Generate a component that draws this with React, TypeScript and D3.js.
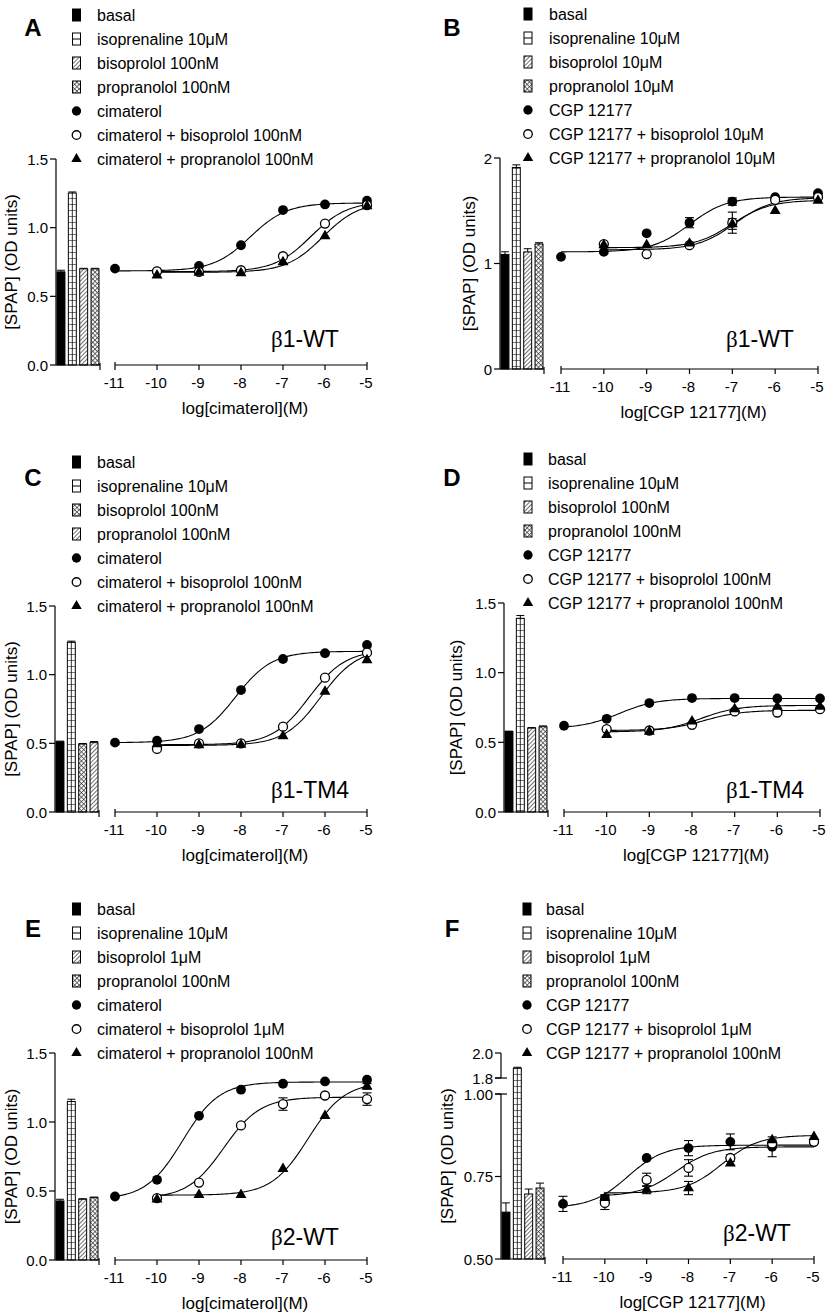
import React from 'react';
import * as d3 from 'd3';

// ---------- shared ----------
const logConc = [-11, -10, -9, -8, -7, -6, -5];
const xTickValues = [-11, -10, -9, -8, -7, -6, -5];
const barKeys = ['basal', 'isoprenaline', 'bisoprolol', 'propranolol'];
const markerKinds = ['filled', 'open', 'triangle'];

// ---------- Panel A ----------
const aLegend = ['basal', 'isoprenaline 10μM', 'bisoprolol 100nM', 'propranolol 100nM', 'cimaterol', 'cimaterol + bisoprolol 100nM', 'cimaterol + propranolol 100nM'];
const aBarPatterns = ['solid', 'grid', 'hatch', 'cross'];
const aBars = [0.678, 1.252, 0.70, 0.70];
const aBarErr = [0.012, 0.008, 0.004, 0.004];
const aAgonist = [0.702, 0.682, 0.721, 0.872, 1.128, 1.169, 1.196];
const aBiso = [null, 0.682, 0.678, 0.69, 0.792, 1.03, 1.164];
const aProp = [null, 0.653, 0.673, 0.67, 0.75, 0.938, 1.157];
const aErr = [[0, 0, 0, 0, 0, 0, 0], [0, 0, 0, 0, 0, 0, 0], [0, 0, 0, 0, 0, 0, 0]];
const aFits = [[0.685, 1.18, -7.78, 1], [0.68, 1.19, -6.34, 1], [0.675, 1.19, -6.05, 1]];

// ---------- Panel B ----------
const bLegend = ['basal', 'isoprenaline 10μM', 'bisoprolol 10μM', 'propranolol 10μM', 'CGP 12177', 'CGP 12177 + bisoprolol 10μM', 'CGP 12177 + propranolol 10μM'];
const bBarPatterns = ['solid', 'grid', 'hatch', 'cross'];
const bBars = [1.086, 1.91, 1.11, 1.185];
const bBarErr = [0.025, 0.025, 0.03, 0.012];
const bAgonist = [1.063, 1.11, 1.286, 1.387, 1.587, 1.629, 1.667];
const bBiso = [null, 1.184, 1.089, 1.174, 1.387, 1.603, 1.629];
const bProp = [null, 1.174, 1.174, 1.19, 1.374, 1.50, 1.596];
const bErr = [[0, 0, 0, 0.048, 0.035, 0, 0], [0, 0, 0, 0, 0.10, 0, 0], [0, 0, 0, 0, 0.05, 0, 0]];
const bFits = [[1.11, 1.63, -8.0, 1], [1.13, 1.625, -6.95, 1], [1.15, 1.60, -7.0, 1]];

// ---------- Panel C ----------
const cLegend = ['basal', 'isoprenaline 10μM', 'bisoprolol 100nM', 'propranolol 100nM', 'cimaterol', 'cimaterol + bisoprolol 100nM', 'cimaterol + propranolol 100nM'];
const cBarPatterns = ['solid', 'grid', 'cross', 'hatch'];
const cBars = [0.512, 1.236, 0.495, 0.505];
const cBarErr = [0.004, 0.008, 0.004, 0.008];
const cAgonist = [0.505, 0.519, 0.604, 0.888, 1.114, 1.156, 1.216];
const cBiso = [null, 0.459, 0.50, 0.50, 0.621, 0.978, 1.16];
const cProp = [null, 0.495, 0.488, 0.49, 0.553, 0.876, 1.107];
const cErr = [[0, 0, 0, 0, 0, 0, 0], [0, 0, 0, 0, 0, 0, 0], [0, 0, 0, 0, 0, 0, 0]];
const cFits = [[0.505, 1.17, -8.13, 1], [0.49, 1.18, -6.38, 1], [0.485, 1.19, -6.1, 1]];

// ---------- Panel D ----------
const dLegend = ['basal', 'isoprenaline 10μM', 'bisoprolol 100nM', 'propranolol 100nM', 'CGP 12177', 'CGP 12177 + bisoprolol 100nM', 'CGP 12177 + propranolol 100nM'];
const dBarPatterns = ['solid', 'grid', 'hatch', 'cross'];
const dBars = [0.578, 1.39, 0.602, 0.612];
const dBarErr = [0.002, 0.02, 0.004, 0.006];
const dAgonist = [0.619, 0.669, 0.782, 0.818, 0.818, 0.815, 0.815];
const dBiso = [null, 0.595, 0.585, 0.626, 0.722, 0.714, 0.738];
const dProp = [null, 0.554, 0.578, 0.65, 0.738, 0.757, 0.757];
const dErr = [[0, 0, 0, 0, 0, 0, 0], [0, 0, 0, 0, 0, 0, 0], [0, 0, 0, 0, 0, 0, 0]];
const dFits = [[0.60, 0.815, -9.7, 1], [0.585, 0.73, -7.7, 1], [0.575, 0.765, -7.8, 1]];

// ---------- Panel E ----------
const eLegend = ['basal', 'isoprenaline 10μM', 'bisoprolol 1μM', 'propranolol 100nM', 'cimaterol', 'cimaterol + bisoprolol 1μM', 'cimaterol + propranolol 100nM'];
const eBarPatterns = ['solid', 'grid', 'hatch', 'cross'];
const eBars = [0.428, 1.149, 0.44, 0.452];
const eBarErr = [0.012, 0.016, 0.004, 0.004];
const eAgonist = [0.46, 0.581, 1.045, 1.234, 1.277, 1.294, 1.306];
const eBiso = [null, 0.448, 0.561, 0.975, 1.13, 1.192, 1.166];
const eProp = [null, 0.44, 0.472, 0.472, 0.66, 1.045, 1.258];
const eErr = [[0, 0, 0, 0, 0, 0, 0], [0, 0, 0, 0, 0.045, 0, 0.045], [0, 0, 0, 0, 0, 0, 0.02]];
const eFits = [[0.44, 1.29, -9.39, 1], [0.445, 1.18, -8.41, 1], [0.47, 1.29, -6.4, 1]];

// ---------- Panel F ----------
const fLegend = ['basal', 'isoprenaline 10μM', 'bisoprolol 1μM', 'propranolol 100nM', 'CGP 12177', 'CGP 12177 + bisoprolol 1μM', 'CGP 12177 + propranolol 100nM'];
const fBarPatterns = ['solid', 'grid', 'hatch', 'cross'];
const fBars = [0.642, 1.878, 0.697, 0.715];
const fBarErr = [0.028, 0.008, 0.015, 0.015];
const fAgonist = [0.667, 0.682, 0.806, 0.836, 0.855, 0.84, 0.855];
const fBiso = [null, 0.67, 0.74, 0.776, 0.806, 0.85, 0.855];
const fProp = [null, 0.685, 0.71, 0.715, 0.79, 0.86, 0.87];
const fErr = [[0.023, 0.01, 0, 0.023, 0.024, 0.03, 0.005], [0, 0.02, 0.02, 0.025, 0.01, 0.01, 0], [0, 0.01, 0.012, 0.02, 0, 0, 0]];
const fFits = [[0.655, 0.845, -9.45, 1], [0.69, 0.84, -8.3, 1], [0.70, 0.875, -7.2, 1]];

// ---------- axes ----------
const yTicks01 = [0, 0.5, 1.0, 1.5];
const yTickLabels01 = ['0.0', '0.5', '1.0', '1.5'];
const yTicksB = [0, 1, 2];
const yTickLabelsB = ['0', '1', '2'];
const yTicksF = [0.5, 0.75, 1.0, 1.8, 2.0];
const yTickLabelsF = ['0.50', '0.75', '1.00', '1.8', '2.0'];
const cimTitle = 'log[cimaterol](M)';
const cgpTitle = 'log[CGP 12177](M)';

const panels = [
  { letter: 'A', sub: ['β', '1-WT'], legend: aLegend, patterns: aBarPatterns, bars: aBars, barErr: aBarErr, series: [aAgonist, aBiso, aProp], errs: aErr, fits: aFits, yDomain: [0, 1.5], yTicks: yTicks01, yTickLabels: yTickLabels01, xTitle: cimTitle },
  { letter: 'B', sub: ['β', '1-WT'], legend: bLegend, patterns: bBarPatterns, bars: bBars, barErr: bBarErr, series: [bAgonist, bBiso, bProp], errs: bErr, fits: bFits, yDomain: [0, 2], yTicks: yTicksB, yTickLabels: yTickLabelsB, xTitle: cgpTitle },
  { letter: 'C', sub: ['β', '1-TM4'], legend: cLegend, patterns: cBarPatterns, bars: cBars, barErr: cBarErr, series: [cAgonist, cBiso, cProp], errs: cErr, fits: cFits, yDomain: [0, 1.5], yTicks: yTicks01, yTickLabels: yTickLabels01, xTitle: cimTitle },
  { letter: 'D', sub: ['β', '1-TM4'], legend: dLegend, patterns: dBarPatterns, bars: dBars, barErr: dBarErr, series: [dAgonist, dBiso, dProp], errs: dErr, fits: dFits, yDomain: [0, 1.5], yTicks: yTicks01, yTickLabels: yTickLabels01, xTitle: cgpTitle },
  { letter: 'E', sub: ['β', '2-WT'], legend: eLegend, patterns: eBarPatterns, bars: eBars, barErr: eBarErr, series: [eAgonist, eBiso, eProp], errs: eErr, fits: eFits, yDomain: [0, 1.5], yTicks: yTicks01, yTickLabels: yTickLabels01, xTitle: cimTitle },
  { letter: 'F', sub: ['β', '2-WT'], legend: fLegend, patterns: fBarPatterns, bars: fBars, barErr: fBarErr, series: [fAgonist, fBiso, fProp], errs: fErr, fits: fFits, yDomain: [0.5, 1.0, 1.8, 2.0], yTicks: yTicksF, yTickLabels: yTickLabelsF, xTitle: cgpTitle, segments: [[0.5, 1.0], [1.8, 2.0]] },
];

const layouts = [
  { axisX: 56, x0: 115, x1: 367, yRange: [365, 159], legendTop: 15, iconX: 76.5, textX: 97, letterX: 33, letterY: 27, subX: 271, subY: 339, yTitleX: 11 },
  { axisX: 500, x0: 561, x1: 818, yRange: [369, 158], legendTop: 14, iconX: 528, textX: 549, letterX: 452, letterY: 27, subX: 726, subY: 339, yTitleX: 469 },
  { axisX: 55, x0: 115, x1: 367, yRange: [812, 606], legendTop: 462, iconX: 76.5, textX: 97, letterX: 33, letterY: 477, subX: 271, subY: 790, yTitleX: 11 },
  { axisX: 504, x0: 564, x1: 820, yRange: [812, 603], legendTop: 459, iconX: 528, textX: 548, letterX: 452, letterY: 477, subX: 726, subY: 790, yTitleX: 456 },
  { axisX: 55, x0: 115, x1: 367, yRange: [1260, 1053], legendTop: 909, iconX: 76.5, textX: 97, letterX: 33, letterY: 928, subX: 271, subY: 1237, yTitleX: 11 },
  { axisX: 501, x0: 563, x1: 814, yRange: [1259, 1094, 1078, 1053], legendTop: 909, iconX: 527, textX: 546, letterX: 452, letterY: 928, subX: 723, subY: 1233, yTitleX: 447 },
];

const FONT = '"Liberation Sans", Arial, Helvetica, sans-serif';

function patternFill(p) {
  if (p === 'solid') return '#000';
  if (p === 'grid') return 'url(#pGrid)';
  if (p === 'hatch') return 'url(#pHatch)';
  return 'url(#pCross)';
}

function Marker({ kind, cx, cy, scale = 1 }) {
  if (kind === 'filled') return <circle cx={cx} cy={cy} r={4.9 * scale} fill="#000" />;
  if (kind === 'open') return <circle cx={cx} cy={cy} r={4.5 * scale} fill="#fff" stroke="#000" strokeWidth={1.3} />;
  const path = d3.symbol().type(d3.symbolTriangle).size(52 * scale * scale)();
  return <path d={path || ''} transform={`translate(${cx},${cy})`} fill="#000" />;
}

function hill(p, v) {
  return p[0] + (p[1] - p[0]) / (1 + Math.pow(10, (p[2] - v) * p[3]));
}

function Panel({ cfg, lay }) {
  const x = d3.scaleLinear().domain([-11, -5]).range([lay.x0, lay.x1]);
  const y = d3.scaleLinear().domain(cfg.yDomain).range(lay.yRange);
  const base = cfg.yDomain[0];
  const yBase = y(base);
  const band = d3.scaleBand().domain(barKeys).range([lay.axisX + 1, lay.axisX + 43]).paddingInner(0.3).paddingOuter(0);
  const bw = band.bandwidth();
  const line = d3.line().x((d) => x(d[0])).y((d) => y(d[1]));
  const segments = cfg.segments || [[cfg.yDomain[0], cfg.yDomain[cfg.yDomain.length - 1]]];
  const yMid = (lay.yRange[0] + lay.yRange[lay.yRange.length - 1]) / 2;

  return (
    <g fontFamily={FONT}>
      {/* panel letter */}
      <text x={lay.letterX} y={lay.letterY} fontSize={24} fontWeight="bold" textAnchor="middle" dominantBaseline="central">{cfg.letter}</text>

      {/* legend */}
      {cfg.legend.map((label, i) => {
        const ry = lay.legendTop + i * 24;
        let icon;
        if (i < 4) {
          const p = cfg.patterns[i];
          icon = (
            <g>
              <rect x={lay.iconX - 4} y={ry - 6} width={8} height={12} fill="#fff" />
              <rect x={lay.iconX - 4} y={ry - 6} width={8} height={12} fill={p === 'grid' ? 'none' : patternFill(p)} stroke="#000" strokeWidth={1} />
              {p === 'grid' && <line x1={lay.iconX - 4} x2={lay.iconX + 4} y1={ry} y2={ry} stroke="#000" strokeWidth={1} />}
            </g>
          );
        } else {
          icon = <Marker kind={markerKinds[i - 4]} cx={lay.iconX} cy={ry} scale={0.95} />;
        }
        return (
          <g key={i}>
            {icon}
            <text x={lay.textX} y={ry} fontSize={16} dominantBaseline="central">{label}</text>
          </g>
        );
      })}

      {/* y axis */}
      {segments.map((s, i) => (
        <line key={'seg' + i} x1={lay.axisX} x2={lay.axisX} y1={y(s[0])} y2={y(s[1])} stroke="#000" strokeWidth={1.2} />
      ))}
      {cfg.segments && [cfg.segments[0][1], cfg.segments[1][0]].map((v, i) => (
        <line key={'brk' + i} x1={lay.axisX - 6} x2={lay.axisX + 6} y1={y(v)} y2={y(v)} stroke="#000" strokeWidth={1.2} />
      ))}
      {cfg.yTicks.map((t, i) => (
        <g key={'yt' + i}>
          <line x1={lay.axisX - 6} x2={lay.axisX} y1={y(t)} y2={y(t)} stroke="#000" strokeWidth={1.2} />
          <text x={lay.axisX - 8} y={y(t)} fontSize={15} textAnchor="end" dominantBaseline="central">{cfg.yTickLabels[i]}</text>
        </g>
      ))}
      <text transform={`translate(${lay.yTitleX},${yMid}) rotate(-90)`} fontSize={17} textAnchor="middle" dominantBaseline="central">[SPAP] (OD units)</text>

      {/* bars */}
      {barKeys.map((k, i) => {
        const bx = band(k);
        const top = y(cfg.bars[i]);
        const p = cfg.patterns[i];
        const errTop = y(cfg.bars[i] + cfg.barErr[i]);
        return (
          <g key={'bar' + i}>
            <line x1={bx + bw / 2} x2={bx + bw / 2} y1={top} y2={errTop} stroke="#000" strokeWidth={1} />
            <line x1={bx} x2={bx + bw} y1={errTop} y2={errTop} stroke="#000" strokeWidth={1} />
            <rect x={bx} y={top} width={bw} height={yBase - top} fill="#fff" />
            <rect x={bx} y={top} width={bw} height={yBase - top} fill={patternFill(p)} stroke="#000" strokeWidth={1} />
            {p === 'grid' && <line x1={bx + bw / 2} x2={bx + bw / 2} y1={top} y2={yBase} stroke="#000" strokeWidth={0.8} />}
          </g>
        );
      })}
      <line x1={lay.axisX} x2={lay.axisX + 44} y1={yBase} y2={yBase} stroke="#000" strokeWidth={1.2} />
      <line x1={lay.axisX + 44} x2={lay.axisX + 44} y1={yBase - 2} y2={yBase + 5} stroke="#000" strokeWidth={1.2} />

      {/* x axis */}
      <line x1={x(-11)} x2={x(-5)} y1={yBase} y2={yBase} stroke="#000" strokeWidth={1.2} />
      {xTickValues.map((t, i) => {
        const end = i === 0 || i === xTickValues.length - 1;
        return (
          <g key={'xt' + t}>
            <line x1={x(t)} x2={x(t)} y1={yBase - (end ? 3 : 0)} y2={yBase + 5} stroke="#000" strokeWidth={1.2} />
            <text x={x(t) - 1} y={yBase + 17} fontSize={15} textAnchor="middle" dominantBaseline="central">{String(t)}</text>
          </g>
        );
      })}
      <text x={(x(-11) + x(-5)) / 2 + 4} y={yBase + 43} fontSize={17} textAnchor="middle" dominantBaseline="central">{cfg.xTitle}</text>

      {/* fitted curves */}
      {cfg.fits.map((p, si) => {
        const vals = cfg.series[si];
        const firstIdx = vals.findIndex((v) => v !== null);
        const start = logConc[firstIdx];
        const pts = d3.range(start, -5 + 1e-9, 0.05).map((v) => [v, hill(p, v)]);
        return <path key={'fit' + si} d={line(pts) || ''} fill="none" stroke="#000" strokeWidth={1.1} />;
      })}

      {/* error bars */}
      {cfg.series.map((vals, si) => vals.map((v, j) => {
        const e = cfg.errs[si][j];
        if (v === null || !e) return null;
        const cx = x(logConc[j]);
        return (
          <g key={`e${si}-${j}`}>
            <line x1={cx} x2={cx} y1={y(v - e)} y2={y(v + e)} stroke="#000" strokeWidth={1.1} />
            <line x1={cx - 4.5} x2={cx + 4.5} y1={y(v - e)} y2={y(v - e)} stroke="#000" strokeWidth={1.1} />
            <line x1={cx - 4.5} x2={cx + 4.5} y1={y(v + e)} y2={y(v + e)} stroke="#000" strokeWidth={1.1} />
          </g>
        );
      }))}

      {/* markers */}
      {cfg.series.map((vals, si) => vals.map((v, j) => (
        v === null ? null : <Marker key={`m${si}-${j}`} kind={markerKinds[si]} cx={x(logConc[j])} cy={y(v)} />
      )))}

      {/* receptor label */}
      <text x={lay.subX} y={lay.subY} fontSize={23} dominantBaseline="central">
        <tspan fontFamily='"Liberation Serif", "Times New Roman", serif'>{cfg.sub[0]}</tspan>
        <tspan>{cfg.sub[1]}</tspan>
      </text>
    </g>
  );
}

export default function App() {
  return (
    <svg width={828} height={1316} viewBox="0 0 828 1316" style={{ position: 'absolute', left: 0, top: 0, background: '#fff' }}>
      <defs>
        <pattern id="pGrid" patternUnits="userSpaceOnUse" width={8} height={6}>
          <line x1={0} x2={8} y1={0.5} y2={0.5} stroke="#555" strokeWidth={0.8} />
        </pattern>
        <pattern id="pHatch" patternUnits="userSpaceOnUse" width={3} height={3} patternTransform="rotate(45)">
          <line x1={0.5} x2={0.5} y1={0} y2={3} stroke="#333" strokeWidth={0.7} />
        </pattern>
        <pattern id="pCross" patternUnits="userSpaceOnUse" width={3.2} height={3.2} patternTransform="rotate(45)">
          <line x1={0.5} x2={0.5} y1={0} y2={3.2} stroke="#333" strokeWidth={0.7} />
          <line x1={0} x2={3.2} y1={0.5} y2={0.5} stroke="#333" strokeWidth={0.7} />
        </pattern>
      </defs>
      <rect x={0} y={0} width={828} height={1316} fill="#fff" />
      {panels.map((cfg, i) => (
        <Panel key={cfg.letter} cfg={cfg} lay={layouts[i]} />
      ))}
    </svg>
  );
}
